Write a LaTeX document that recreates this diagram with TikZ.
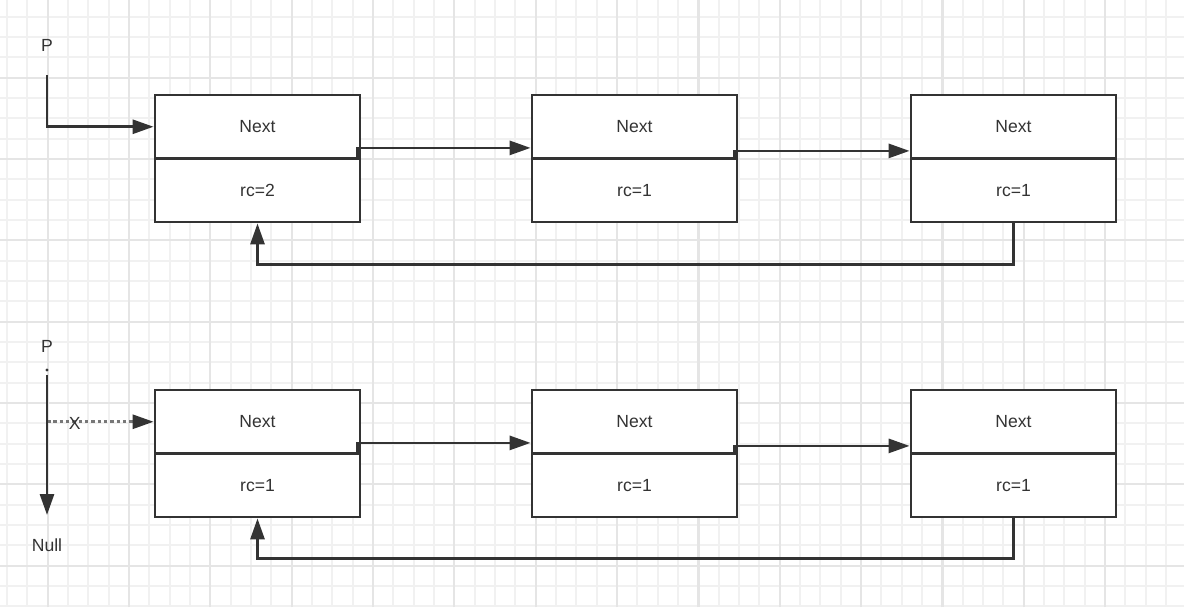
\documentclass[tikz,border=0pt]{standalone}
\usepackage{fontspec}
\setmainfont{Liberation Sans}
\usetikzlibrary{arrows.meta}
\definecolor{inkgray}{HTML}{333333}
\definecolor{dotgray}{HTML}{777777}
\definecolor{gridminor}{HTML}{F1F1F1}
\definecolor{gridmajor}{HTML}{E5E5E5}
\begin{document}
\begin{tikzpicture}[
    cell/.style={draw=inkgray, line width=1.6pt, fill=white, minimum width=4.1cm,
      minimum height=1.27cm, inner sep=0pt, text=inkgray, font=\fontsize{10}{12}\selectfont},
    label/.style={text=inkgray, inner sep=1pt, font=\fontsize{10}{12}\selectfont},
    link/.style={draw=inkgray, line width=1.6pt, -{Triangle[length=0.42cm,width=0.28cm]}},
    cutlink/.style={draw=dotgray, line width=1.6pt, dash pattern=on 2pt off 1.6pt,
      -{Triangle[length=0.42cm,width=0.28cm,fill=inkgray,color=inkgray]}}
  ]
  \useasboundingbox (0,0) rectangle (23.68,12.14);

  % Drawing grid paper
  \fill[white] (0,0) rectangle (23.68,12.14);
  \foreach \j in {0,...,58} {
    \pgfmathsetmacro{\gx}{0.14+\j*0.40667}
    \draw[gridminor, line width=1.1pt] (\gx,0) -- (\gx,12.14);
  }
  \foreach \k in {0,...,29} {
    \pgfmathsetmacro{\gy}{0.013+\k*0.40667}
    \draw[gridminor, line width=1.1pt] (0,\gy) -- (23.68,\gy);
  }
  \foreach \j in {2,6,...,58} {
    \pgfmathsetmacro{\gx}{0.14+\j*0.40667}
    \draw[gridmajor, line width=1.3pt] (\gx,0) -- (\gx,12.14);
  }
  \foreach \k in {2,6,...,29} {
    \pgfmathsetmacro{\gy}{0.013+\k*0.40667}
    \draw[gridmajor, line width=1.3pt] (0,\gy) -- (23.68,\gy);
  }

  % Drawing top list
  \node[cell] (topnext1) at (5.15,9.605) {Next};
  \node[cell] (toprc1) at (5.15,8.335) {rc=2};
  \node[cell] (topnext2) at (12.69,9.605) {Next};
  \node[cell] (toprc2) at (12.69,8.335) {rc=1};
  \node[cell] (topnext3) at (20.27,9.605) {Next};
  \node[cell] (toprc3) at (20.27,8.335) {rc=1};

  % Marking pointer P (top)
  \node[label] (ptop) at (0.94,11.24) {P};
  \coordinate (ptopstart) at (0.94,10.64);
  \draw[link] (ptopstart) |- (topnext1.west);

  % Drawing next links (top)
  \draw[link] ([xshift=-0.08cm]topnext1.south east) |- ([yshift=0.24cm]topnext2.south west);
  \draw[link] ([xshift=-0.08cm]topnext2.south east) |- ([yshift=0.18cm]topnext3.south west);
  \draw[link] (toprc3.south) -- ++(0,-0.82) -| (toprc1.south);

  % Drawing bottom list
  \node[cell] (botnext1) at (5.15,3.705) {Next};
  \node[cell] (botrc1) at (5.15,2.435) {rc=1};
  \node[cell] (botnext2) at (12.69,3.705) {Next};
  \node[cell] (botrc2) at (12.69,2.435) {rc=1};
  \node[cell] (botnext3) at (20.27,3.705) {Next};
  \node[cell] (botrc3) at (20.27,2.435) {rc=1};

  % Marking pointer P (bottom)
  \node[label] (pbot) at (0.94,5.22) {P};
  \node[label] (null) at (0.94,1.24) {Null};
  \coordinate (pbotdot) at (0.94,4.74);
  \coordinate (pbotstart) at (0.94,4.64);
  \coordinate (pbotend) at (0.94,1.84);
  \coordinate (pbranch) at (0.94,3.705);
  \fill[inkgray] (pbotdot) circle (0.9pt);
  \draw[cutlink] (pbranch) -- (botnext1.west) node[label, pos=0.26, yshift=-1pt] {X};
  \draw[link] (pbotstart) -- (pbotend);

  % Drawing next links (bottom)
  \draw[link] ([xshift=-0.08cm]botnext1.south east) |- ([yshift=0.24cm]botnext2.south west);
  \draw[link] ([xshift=-0.08cm]botnext2.south east) |- ([yshift=0.18cm]botnext3.south west);
  \draw[link] (botrc3.south) -- ++(0,-0.8) -| (botrc1.south);
\end{tikzpicture}
\end{document}
